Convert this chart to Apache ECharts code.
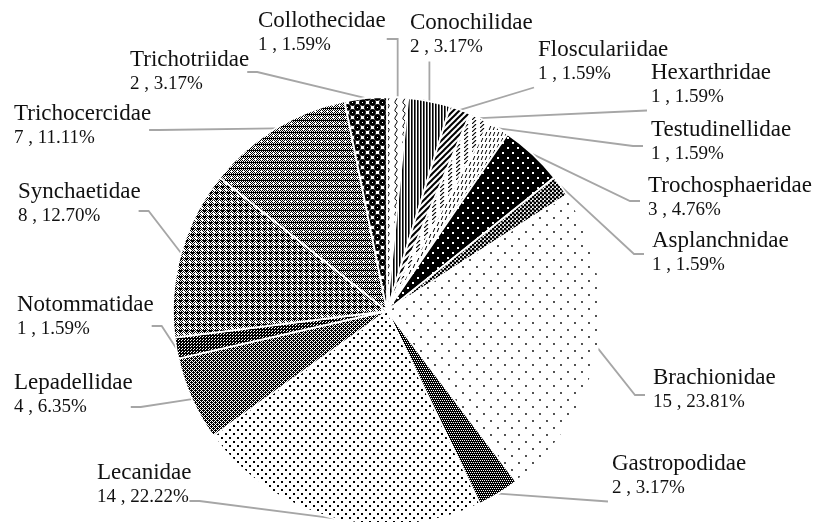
<!DOCTYPE html>
<html>
<head>
<meta charset="utf-8">
<script src="https://cdn.jsdelivr.net/npm/echarts@6/dist/echarts.min.js"></script>
<style>
  html, body { margin: 0; padding: 0; background: #fff; }
  #chart { width: 816px; height: 522px; }
</style>
</head>
<body>
<div id="chart"></div>
<script>
// ---- data ----
const families = [
  'Collothecidae', 'Conochilidae', 'Flosculariidae', 'Hexarthridae', 'Testudinellidae',
  'Trochosphaeridae', 'Asplanchnidae', 'Brachionidae', 'Gastropodidae', 'Lecanidae',
  'Lepadellidae', 'Notommatidae', 'Synchaetidae', 'Trichocercidae', 'Trichotriidae'
];
const counts = [1, 2, 1, 1, 1, 3, 1, 15, 2, 14, 4, 1, 8, 7, 2];

// ---- layout (label top-left, attach mode, line offset) ----
const CX = 387, CY = 311, R = 214;
const labelSpots = [
  [258, 8, 'corner', 31],
  [410, 10, 'below', 0],
  [538, 37, 'lowLeft', 0],
  [651, 60, 'lowLeft', 0],
  [651, 117, 'left', 29],
  [648, 173, 'left', 28],
  [652, 228, 'left', 26],
  [653, 365, 'left', 30],
  [612, 451, 'lowLeft', 0],
  [97, 460, 'right', 41],
  [14, 370, 'right', 37],
  [17, 292, 'right', 34],
  [18, 179, 'right', 32],
  [14, 101, 'right', 29],
  [130, 47, 'right', 25]
];

const total = counts.reduce((a, b) => a + b, 0);

// ---- pattern fills ----
function tile(w, h, draw) {
  const c = document.createElement('canvas');
  c.width = w; c.height = h;
  const g = c.getContext('2d');
  g.fillStyle = '#fff'; g.fillRect(0, 0, w, h);
  g.fillStyle = '#000'; g.strokeStyle = '#000';
  draw(g, w, h);
  return { image: c, repeat: 'repeat' };
}
function dot(g, x, y, r) { g.beginPath(); g.arc(x, y, r, 0, Math.PI * 2); g.fill(); }
function px(g, list) { list.forEach(p => g.fillRect(p[0], p[1], 1, 1)); }
function checker(g, w, h) { for (let y = 0; y < h; y++) for (let x = 0; x < w; x++) if ((x + y) % 2 === 0) g.fillRect(x, y, 1, 1); }
function spheres(g, s, r) {
  for (let a = -1; a <= 1; a++) for (let b = -1; b <= 1; b++) {
    dot(g, s / 4 + a * s, s / 4 + b * s, r);
    dot(g, 3 * s / 4 + a * s, 3 * s / 4 + b * s, r);
  }
  g.fillStyle = '#fff';
  g.fillRect(Math.round(s / 4) - 1, Math.round(s / 4) - 1, 1, 1);
  g.fillRect(Math.round(3 * s / 4) - 1, Math.round(3 * s / 4) - 1, 1, 1);
}

const patterns = [
  // Collothecidae: waves
  tile(8, 8, g => { g.lineWidth = 1; g.beginPath(); g.moveTo(4, 0); g.bezierCurveTo(8, 2, 0, 6, 4, 8); g.stroke(); }),
  // Conochilidae: vertical stripes
  tile(3, 4, g => { g.fillRect(0, 0, 1.6, 4); }),
  // Flosculariidae: wide upward diagonal
  tile(6, 6, g => { g.lineWidth = 2; [[-6, 6, 6, -6], [0, 6, 6, 0], [0, 12, 12, 0]].forEach(l => { g.beginPath(); g.moveTo(l[0], l[1]); g.lineTo(l[2], l[3]); g.stroke(); }); }),
  // Hexarthridae: dashed upward diagonal
  tile(8, 4, g => { g.lineWidth = 1.1; g.beginPath(); g.moveTo(0, 4); g.lineTo(4, 0); g.stroke(); }),
  // Testudinellidae: short slanted dashes
  tile(4, 6, g => { g.lineWidth = 1; g.beginPath(); g.moveTo(2.8, 0); g.lineTo(1.2, 4); g.stroke(); }),
  // Trochosphaeridae: black with white dots
  tile(10, 10, g => { g.fillRect(0, 0, 10, 10); g.fillStyle = '#fff'; g.fillRect(2, 2, 2, 2); g.fillRect(7, 7, 2, 2); }),
  // Asplanchnidae: dense dotted checker
  tile(4, 4, g => { dot(g, 1, 1, 1.4); dot(g, 3, 3, 1.4); }),
  // Brachionidae: sparse dots
  tile(14, 14, g => { dot(g, 1, 1, 0.9); dot(g, 8, 8, 0.9); }),
  // Gastropodidae: dark fine checker
  tile(4, 4, g => { g.fillRect(0, 0, 4, 4); g.fillStyle = '#fff'; px(g, [[0, 0], [2, 0], [1, 2], [3, 2]]); }),
  // Lecanidae: denser dots
  tile(8, 8, g => { g.fillRect(1, 1, 2, 2); g.fillRect(5, 5, 2, 2); }),
  // Lepadellidae: dark fine texture
  tile(4, 4, g => { checker(g, 4, 4); px(g, [[1, 0], [3, 2]]); }),
  // Notommatidae: dark
  tile(3, 3, g => { g.fillRect(0, 0, 3, 3); g.fillStyle = '#fff'; px(g, [[1, 1], [2, 0]]); }),
  // Synchaetidae: plaid lattice
  tile(6, 6, g => { checker(g, 6, 6); px(g, [[1, 0], [5, 0], [0, 1]]); g.fillStyle = '#fff'; g.fillRect(3, 3, 2, 2); }),
  // Trichocercidae: lattice with white dots
  tile(6, 6, g => { checker(g, 6, 6); g.fillRect(0, 0, 6, 1); g.fillStyle = '#fff'; px(g, [[3, 3]]); }),
  // Trichotriidae: spheres
  tile(10, 10, g => { spheres(g, 10, 3.4); })
];

function midPoint(i) {
  let before = 0;
  for (let k = 0; k < i; k++) before += counts[k];
  const ang = (before + counts[i] / 2) / total * Math.PI * 2;
  return [CX + R * Math.sin(ang), CY - R * Math.cos(ang)];
}

const chart = echarts.init(document.getElementById('chart'), null, { renderer: 'canvas' });

chart.setOption({
  backgroundColor: '#fff',
  animation: false,
  series: [{
    type: 'pie',
    center: [CX, CY],
    radius: R,
    startAngle: 90,
    clockwise: true,
    avoidLabelOverlap: false,
    emphasis: { disabled: true },
    data: families.map((n, i) => ({
      name: n,
      value: counts[i],
      itemStyle: { color: patterns[i] }
    })),
    itemStyle: { borderColor: '#fff', borderWidth: 1.8 },
    label: {
      show: true,
      position: 'outside',
      formatter: p => '{n|' + p.name + '}\n{v|' + p.value + ' , ' + (p.value / total * 100).toFixed(2) + '%}',
      rich: {
        n: { fontFamily: 'Liberation Serif', fontSize: 23, lineHeight: 25, color: '#111' },
        v: { fontFamily: 'Liberation Serif', fontSize: 19, lineHeight: 24, color: '#111' }
      }
    },
    labelLine: {
      show: true,
      lineStyle: { color: '#a6a6a6', width: 1.8 }
    },
    labelLayout: function (params) {
      const i = params.dataIndex;
      const s = labelSpots[i];
      const lx = s[0], ly = s[1], mode = s[2], k = s[3];
      const w = params.labelRect.width, h = params.labelRect.height;
      const st = midPoint(i);
      let pts;
      if (mode === 'corner') {
        pts = [st, [st[0], ly + k], [lx + w + 1, ly + k]];
      } else if (mode === 'below') {
        pts = [st, [st[0], ly + h + 6]];
      } else if (mode === 'lowLeft') {
        pts = [st, [lx - 4, ly + h + 5]];
      } else if (mode === 'left') {
        pts = [st, [lx - 18, ly + k], [lx - 8, ly + k]];
      } else {
        pts = [st, [lx + w + 8, ly + k], [lx + w - 2, ly + k]];
      }
      return { x: lx, y: ly, align: 'left', verticalAlign: 'top', labelLinePoints: pts };
    }
  }]
});
</script>
</body>
</html>
